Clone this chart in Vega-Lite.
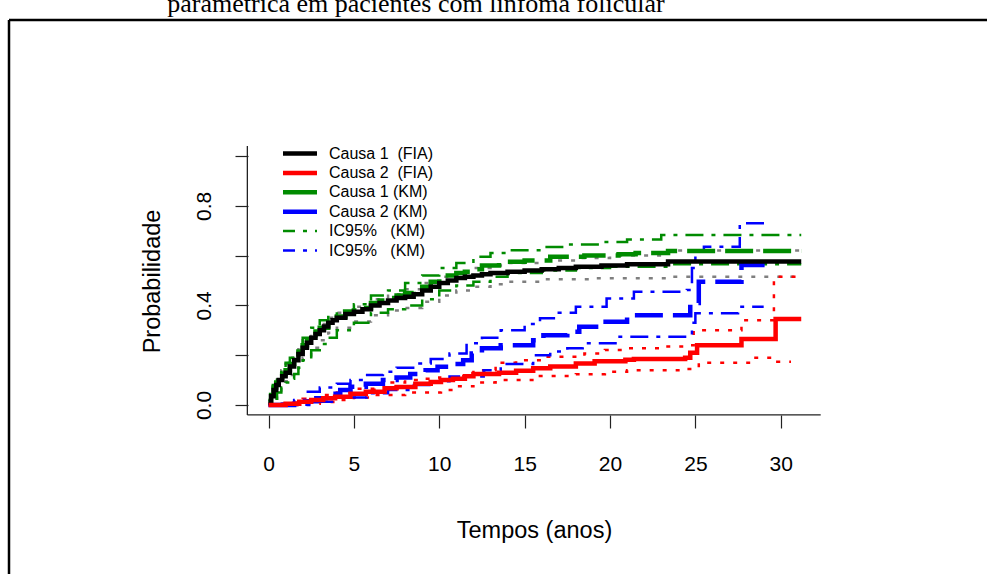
{
  "$schema": "https://vega.github.io/schema/vega-lite/v6.json",
  "width": 978,
  "height": 554,
  "autosize": {"type": "none"},
  "padding": {"left": 9, "top": 20, "right": 0, "bottom": 0},
  "background": "white",
  "config": {
    "view": {"stroke": "black", "strokeWidth": 2.5, "strokeDash": [978, 1532, 554, 0]},
    "font": "Liberation Sans",
    "axis": {"grid": false, "domain": false, "tickColor": "#222222", "tickWidth": 1.2, "labelColor": "black", "titleColor": "black", "labelFont": "Liberation Sans", "titleFont": "Liberation Sans", "titleFontWeight": "normal"},
    "axisX": {"offset": -159, "tickSize": 13, "labelFontSize": 21, "labelPadding": 25, "titleFontSize": 23.5, "titleX": 525, "titleY": 122, "titleBaseline": "alphabetic", "titleAlign": "center"},
    "axisY": {"offset": -239, "tickSize": 13, "labelFontSize": 21, "labelAngle": 270, "labelAlign": "center", "labelBaseline": "alphabetic", "labelPadding": 25, "labelExpr": "datum.value == 0 ? '0.0' : (datum.value == 0.4 ? '0.4' : (datum.value == 0.8 ? '0.8' : ''))", "titleFontSize": 23.5, "titleAngle": 270, "titleX": -89, "titleY": 261, "titleBaseline": "alphabetic", "titleAlign": "center"}
  },
  "title": {
    "text": "paramétrica em pacientes com linfoma folicular",
    "font": "Liberation Serif",
    "fontSize": 26,
    "fontWeight": "normal",
    "color": "black",
    "anchor": "middle",
    "frame": "group",
    "orient": "top",
    "baseline": "alphabetic",
    "offset": 0,
    "dy": 18,
    "dx": -82
  },
  "datasets": {
    "curvas": [
      {"curva":"FIA1","lim":"est","t":0,"p":0.01},{"curva":"FIA1","lim":"est","t":0.15,"p":0.035},{"curva":"FIA1","lim":"est","t":0.3,"p":0.06},{"curva":"FIA1","lim":"est","t":0.45,"p":0.08},{"curva":"FIA1","lim":"est","t":0.6,"p":0.10},{"curva":"FIA1","lim":"est","t":0.8,"p":0.115},{"curva":"FIA1","lim":"est","t":1.0,"p":0.13},{"curva":"FIA1","lim":"est","t":1.25,"p":0.155},{"curva":"FIA1","lim":"est","t":1.5,"p":0.18},{"curva":"FIA1","lim":"est","t":1.75,"p":0.205},{"curva":"FIA1","lim":"est","t":2.0,"p":0.23},{"curva":"FIA1","lim":"est","t":2.25,"p":0.25},{"curva":"FIA1","lim":"est","t":2.5,"p":0.27},{"curva":"FIA1","lim":"est","t":2.75,"p":0.285},{"curva":"FIA1","lim":"est","t":3.0,"p":0.30},{"curva":"FIA1","lim":"est","t":3.25,"p":0.315},{"curva":"FIA1","lim":"est","t":3.5,"p":0.33},{"curva":"FIA1","lim":"est","t":3.75,"p":0.34},{"curva":"FIA1","lim":"est","t":4.0,"p":0.35},{"curva":"FIA1","lim":"est","t":4.5,"p":0.365},{"curva":"FIA1","lim":"est","t":5.0,"p":0.375},{"curva":"FIA1","lim":"est","t":5.5,"p":0.385},{"curva":"FIA1","lim":"est","t":6.0,"p":0.40},{"curva":"FIA1","lim":"est","t":6.5,"p":0.41},{"curva":"FIA1","lim":"est","t":7.0,"p":0.42},{"curva":"FIA1","lim":"est","t":7.5,"p":0.43},{"curva":"FIA1","lim":"est","t":8.0,"p":0.435},{"curva":"FIA1","lim":"est","t":8.5,"p":0.445},{"curva":"FIA1","lim":"est","t":9.0,"p":0.46},{"curva":"FIA1","lim":"est","t":9.5,"p":0.475},{"curva":"FIA1","lim":"est","t":10.0,"p":0.49},{"curva":"FIA1","lim":"est","t":10.5,"p":0.50},{"curva":"FIA1","lim":"est","t":11.0,"p":0.51},{"curva":"FIA1","lim":"est","t":11.5,"p":0.515},{"curva":"FIA1","lim":"est","t":12.0,"p":0.52},{"curva":"FIA1","lim":"est","t":12.5,"p":0.525},{"curva":"FIA1","lim":"est","t":13.0,"p":0.53},{"curva":"FIA1","lim":"est","t":14.0,"p":0.535},{"curva":"FIA1","lim":"est","t":15.0,"p":0.54},{"curva":"FIA1","lim":"est","t":16.0,"p":0.545},{"curva":"FIA1","lim":"est","t":17.0,"p":0.55},{"curva":"FIA1","lim":"est","t":18.0,"p":0.555},{"curva":"FIA1","lim":"est","t":19.5,"p":0.56},{"curva":"FIA1","lim":"est","t":21.0,"p":0.565},{"curva":"FIA1","lim":"est","t":23.4,"p":0.576},{"curva":"FIA1","lim":"est","t":31.2,"p":0.576},

      {"curva":"FIA1ci","lim":"lo","t":0,"p":0},{"curva":"FIA1ci","lim":"lo","t":0.25,"p":0.025},{"curva":"FIA1ci","lim":"lo","t":0.5,"p":0.05},{"curva":"FIA1ci","lim":"lo","t":0.75,"p":0.075},{"curva":"FIA1ci","lim":"lo","t":1,"p":0.095},{"curva":"FIA1ci","lim":"lo","t":1.25,"p":0.12},{"curva":"FIA1ci","lim":"lo","t":1.5,"p":0.14},{"curva":"FIA1ci","lim":"lo","t":1.75,"p":0.165},{"curva":"FIA1ci","lim":"lo","t":2,"p":0.19},{"curva":"FIA1ci","lim":"lo","t":2.5,"p":0.23},{"curva":"FIA1ci","lim":"lo","t":3,"p":0.26},{"curva":"FIA1ci","lim":"lo","t":3.5,"p":0.29},{"curva":"FIA1ci","lim":"lo","t":4,"p":0.31},{"curva":"FIA1ci","lim":"lo","t":5,"p":0.335},{"curva":"FIA1ci","lim":"lo","t":6,"p":0.36},{"curva":"FIA1ci","lim":"lo","t":7,"p":0.38},{"curva":"FIA1ci","lim":"lo","t":8,"p":0.39},{"curva":"FIA1ci","lim":"lo","t":9,"p":0.415},{"curva":"FIA1ci","lim":"lo","t":10,"p":0.44},{"curva":"FIA1ci","lim":"lo","t":11,"p":0.46},{"curva":"FIA1ci","lim":"lo","t":12,"p":0.475},{"curva":"FIA1ci","lim":"lo","t":13,"p":0.485},{"curva":"FIA1ci","lim":"lo","t":14,"p":0.495},{"curva":"FIA1ci","lim":"lo","t":16,"p":0.505},{"curva":"FIA1ci","lim":"lo","t":19,"p":0.509},{"curva":"FIA1ci","lim":"lo","t":23.4,"p":0.515},{"curva":"FIA1ci","lim":"lo","t":31.2,"p":0.515},
      {"curva":"FIA1ci","lim":"hi","t":0,"p":0.02},{"curva":"FIA1ci","lim":"hi","t":0.25,"p":0.07},{"curva":"FIA1ci","lim":"hi","t":0.5,"p":0.11},{"curva":"FIA1ci","lim":"hi","t":0.75,"p":0.14},{"curva":"FIA1ci","lim":"hi","t":1,"p":0.165},{"curva":"FIA1ci","lim":"hi","t":1.25,"p":0.19},{"curva":"FIA1ci","lim":"hi","t":1.5,"p":0.21},{"curva":"FIA1ci","lim":"hi","t":1.75,"p":0.235},{"curva":"FIA1ci","lim":"hi","t":2,"p":0.26},{"curva":"FIA1ci","lim":"hi","t":2.5,"p":0.295},{"curva":"FIA1ci","lim":"hi","t":3,"p":0.325},{"curva":"FIA1ci","lim":"hi","t":3.5,"p":0.35},{"curva":"FIA1ci","lim":"hi","t":4,"p":0.37},{"curva":"FIA1ci","lim":"hi","t":5,"p":0.395},{"curva":"FIA1ci","lim":"hi","t":6,"p":0.425},{"curva":"FIA1ci","lim":"hi","t":7,"p":0.445},{"curva":"FIA1ci","lim":"hi","t":8,"p":0.465},{"curva":"FIA1ci","lim":"hi","t":9,"p":0.49},{"curva":"FIA1ci","lim":"hi","t":10,"p":0.515},{"curva":"FIA1ci","lim":"hi","t":11,"p":0.535},{"curva":"FIA1ci","lim":"hi","t":12,"p":0.55},{"curva":"FIA1ci","lim":"hi","t":13,"p":0.56},{"curva":"FIA1ci","lim":"hi","t":14,"p":0.57},{"curva":"FIA1ci","lim":"hi","t":16,"p":0.58},{"curva":"FIA1ci","lim":"hi","t":18,"p":0.59},{"curva":"FIA1ci","lim":"hi","t":20,"p":0.60},{"curva":"FIA1ci","lim":"hi","t":23.4,"p":0.62},{"curva":"FIA1ci","lim":"hi","t":31.2,"p":0.62},

      {"curva":"KM1","lim":"est","t":0,"p":0.01},{"curva":"KM1","lim":"est","t":0.15,"p":0.04},{"curva":"KM1","lim":"est","t":0.3,"p":0.07},{"curva":"KM1","lim":"est","t":0.45,"p":0.09},{"curva":"KM1","lim":"est","t":0.6,"p":0.11},{"curva":"KM1","lim":"est","t":0.8,"p":0.125},{"curva":"KM1","lim":"est","t":1.0,"p":0.14},{"curva":"KM1","lim":"est","t":1.25,"p":0.165},{"curva":"KM1","lim":"est","t":1.5,"p":0.19},{"curva":"KM1","lim":"est","t":1.75,"p":0.215},{"curva":"KM1","lim":"est","t":2.0,"p":0.24},{"curva":"KM1","lim":"est","t":2.25,"p":0.26},{"curva":"KM1","lim":"est","t":2.5,"p":0.28},{"curva":"KM1","lim":"est","t":2.75,"p":0.295},{"curva":"KM1","lim":"est","t":3.0,"p":0.31},{"curva":"KM1","lim":"est","t":3.5,"p":0.335},{"curva":"KM1","lim":"est","t":4.0,"p":0.355},{"curva":"KM1","lim":"est","t":4.5,"p":0.37},{"curva":"KM1","lim":"est","t":5.0,"p":0.38},{"curva":"KM1","lim":"est","t":5.5,"p":0.39},{"curva":"KM1","lim":"est","t":6.0,"p":0.41},{"curva":"KM1","lim":"est","t":6.5,"p":0.42},{"curva":"KM1","lim":"est","t":7.0,"p":0.43},{"curva":"KM1","lim":"est","t":7.5,"p":0.44},{"curva":"KM1","lim":"est","t":8.0,"p":0.45},{"curva":"KM1","lim":"est","t":8.5,"p":0.46},{"curva":"KM1","lim":"est","t":9.0,"p":0.475},{"curva":"KM1","lim":"est","t":9.5,"p":0.495},{"curva":"KM1","lim":"est","t":10.0,"p":0.51},{"curva":"KM1","lim":"est","t":10.5,"p":0.52},{"curva":"KM1","lim":"est","t":11.0,"p":0.53},{"curva":"KM1","lim":"est","t":11.5,"p":0.535},{"curva":"KM1","lim":"est","t":12.0,"p":0.545},{"curva":"KM1","lim":"est","t":12.5,"p":0.56},{"curva":"KM1","lim":"est","t":13.5,"p":0.575},{"curva":"KM1","lim":"est","t":15.0,"p":0.58},{"curva":"KM1","lim":"est","t":16.5,"p":0.595},{"curva":"KM1","lim":"est","t":18.5,"p":0.60},{"curva":"KM1","lim":"est","t":20.5,"p":0.605},{"curva":"KM1","lim":"est","t":21.5,"p":0.61},{"curva":"KM1","lim":"est","t":23.4,"p":0.618},{"curva":"KM1","lim":"est","t":31.2,"p":0.618},

      {"curva":"KM1ci","lim":"hi","t":0,"p":0.02},{"curva":"KM1ci","lim":"hi","t":0.25,"p":0.08},{"curva":"KM1ci","lim":"hi","t":0.5,"p":0.12},{"curva":"KM1ci","lim":"hi","t":0.75,"p":0.145},{"curva":"KM1ci","lim":"hi","t":1.0,"p":0.17},{"curva":"KM1ci","lim":"hi","t":1.25,"p":0.19},{"curva":"KM1ci","lim":"hi","t":1.5,"p":0.21},{"curva":"KM1ci","lim":"hi","t":1.75,"p":0.24},{"curva":"KM1ci","lim":"hi","t":2.0,"p":0.27},{"curva":"KM1ci","lim":"hi","t":2.5,"p":0.31},{"curva":"KM1ci","lim":"hi","t":3.0,"p":0.34},{"curva":"KM1ci","lim":"hi","t":3.5,"p":0.36},{"curva":"KM1ci","lim":"hi","t":4.0,"p":0.38},{"curva":"KM1ci","lim":"hi","t":5.0,"p":0.405},{"curva":"KM1ci","lim":"hi","t":6.0,"p":0.44},{"curva":"KM1ci","lim":"hi","t":7.0,"p":0.46},{"curva":"KM1ci","lim":"hi","t":8.0,"p":0.49},{"curva":"KM1ci","lim":"hi","t":9.0,"p":0.52},{"curva":"KM1ci","lim":"hi","t":10.0,"p":0.55},{"curva":"KM1ci","lim":"hi","t":11.0,"p":0.57},{"curva":"KM1ci","lim":"hi","t":12.0,"p":0.595},{"curva":"KM1ci","lim":"hi","t":13.0,"p":0.61},{"curva":"KM1ci","lim":"hi","t":14.0,"p":0.622},{"curva":"KM1ci","lim":"hi","t":16.0,"p":0.635},{"curva":"KM1ci","lim":"hi","t":17.5,"p":0.645},{"curva":"KM1ci","lim":"hi","t":19.5,"p":0.655},{"curva":"KM1ci","lim":"hi","t":21.0,"p":0.665},{"curva":"KM1ci","lim":"hi","t":23.0,"p":0.683},{"curva":"KM1ci","lim":"hi","t":31.2,"p":0.683},
      {"curva":"KM1ci","lim":"lo","t":0,"p":0.005},{"curva":"KM1ci","lim":"lo","t":0.25,"p":0.025},{"curva":"KM1ci","lim":"lo","t":0.5,"p":0.05},{"curva":"KM1ci","lim":"lo","t":0.75,"p":0.07},{"curva":"KM1ci","lim":"lo","t":1.0,"p":0.09},{"curva":"KM1ci","lim":"lo","t":1.25,"p":0.105},{"curva":"KM1ci","lim":"lo","t":1.5,"p":0.125},{"curva":"KM1ci","lim":"lo","t":1.75,"p":0.15},{"curva":"KM1ci","lim":"lo","t":2.0,"p":0.18},{"curva":"KM1ci","lim":"lo","t":2.5,"p":0.22},{"curva":"KM1ci","lim":"lo","t":3.0,"p":0.245},{"curva":"KM1ci","lim":"lo","t":3.5,"p":0.27},{"curva":"KM1ci","lim":"lo","t":4.0,"p":0.30},{"curva":"KM1ci","lim":"lo","t":5.0,"p":0.33},{"curva":"KM1ci","lim":"lo","t":6.0,"p":0.37},{"curva":"KM1ci","lim":"lo","t":7.0,"p":0.385},{"curva":"KM1ci","lim":"lo","t":8.0,"p":0.40},{"curva":"KM1ci","lim":"lo","t":9.0,"p":0.425},{"curva":"KM1ci","lim":"lo","t":10.0,"p":0.46},{"curva":"KM1ci","lim":"lo","t":11.0,"p":0.48},{"curva":"KM1ci","lim":"lo","t":12.0,"p":0.495},{"curva":"KM1ci","lim":"lo","t":13.0,"p":0.515},{"curva":"KM1ci","lim":"lo","t":14.0,"p":0.53},{"curva":"KM1ci","lim":"lo","t":16.0,"p":0.54},{"curva":"KM1ci","lim":"lo","t":18.0,"p":0.55},{"curva":"KM1ci","lim":"lo","t":20.0,"p":0.555},{"curva":"KM1ci","lim":"lo","t":23.4,"p":0.565},{"curva":"KM1ci","lim":"lo","t":31.2,"p":0.565},

      {"curva":"FIA2","lim":"est","t":0,"p":0},{"curva":"FIA2","lim":"est","t":1.0,"p":0.005},{"curva":"FIA2","lim":"est","t":1.8,"p":0.013},{"curva":"FIA2","lim":"est","t":2.5,"p":0.02},{"curva":"FIA2","lim":"est","t":3.2,"p":0.027},{"curva":"FIA2","lim":"est","t":3.9,"p":0.033},{"curva":"FIA2","lim":"est","t":4.8,"p":0.045},{"curva":"FIA2","lim":"est","t":5.7,"p":0.053},{"curva":"FIA2","lim":"est","t":6.8,"p":0.067},{"curva":"FIA2","lim":"est","t":7.5,"p":0.072},{"curva":"FIA2","lim":"est","t":8.6,"p":0.085},{"curva":"FIA2","lim":"est","t":9.5,"p":0.092},{"curva":"FIA2","lim":"est","t":10.1,"p":0.10},{"curva":"FIA2","lim":"est","t":10.8,"p":0.105},{"curva":"FIA2","lim":"est","t":11.5,"p":0.115},{"curva":"FIA2","lim":"est","t":12.0,"p":0.125},{"curva":"FIA2","lim":"est","t":13.5,"p":0.13},{"curva":"FIA2","lim":"est","t":14.5,"p":0.138},{"curva":"FIA2","lim":"est","t":15.5,"p":0.148},{"curva":"FIA2","lim":"est","t":16.5,"p":0.155},{"curva":"FIA2","lim":"est","t":18.0,"p":0.167},{"curva":"FIA2","lim":"est","t":19.1,"p":0.176},{"curva":"FIA2","lim":"est","t":20.9,"p":0.182},{"curva":"FIA2","lim":"est","t":21.4,"p":0.185},{"curva":"FIA2","lim":"est","t":24.4,"p":0.19},{"curva":"FIA2","lim":"est","t":24.7,"p":0.21},{"curva":"FIA2","lim":"est","t":25.1,"p":0.24},{"curva":"FIA2","lim":"est","t":27.7,"p":0.265},{"curva":"FIA2","lim":"est","t":29.7,"p":0.345},{"curva":"FIA2","lim":"est","t":31.2,"p":0.345},

      {"curva":"FIA2ci","lim":"hi","t":0,"p":0.005},{"curva":"FIA2ci","lim":"hi","t":1,"p":0.01},{"curva":"FIA2ci","lim":"hi","t":2,"p":0.025},{"curva":"FIA2ci","lim":"hi","t":3,"p":0.04},{"curva":"FIA2ci","lim":"hi","t":4,"p":0.05},{"curva":"FIA2ci","lim":"hi","t":5,"p":0.065},{"curva":"FIA2ci","lim":"hi","t":6.2,"p":0.085},{"curva":"FIA2ci","lim":"hi","t":7,"p":0.09},{"curva":"FIA2ci","lim":"hi","t":8,"p":0.10},{"curva":"FIA2ci","lim":"hi","t":9,"p":0.105},{"curva":"FIA2ci","lim":"hi","t":10,"p":0.11},{"curva":"FIA2ci","lim":"hi","t":11,"p":0.115},{"curva":"FIA2ci","lim":"hi","t":12,"p":0.14},{"curva":"FIA2ci","lim":"hi","t":13.3,"p":0.17},{"curva":"FIA2ci","lim":"hi","t":14.5,"p":0.18},{"curva":"FIA2ci","lim":"hi","t":16.2,"p":0.194},{"curva":"FIA2ci","lim":"hi","t":18.5,"p":0.207},{"curva":"FIA2ci","lim":"hi","t":19.7,"p":0.221},{"curva":"FIA2ci","lim":"hi","t":20.7,"p":0.228},{"curva":"FIA2ci","lim":"hi","t":23,"p":0.235},{"curva":"FIA2ci","lim":"hi","t":24.5,"p":0.24},{"curva":"FIA2ci","lim":"hi","t":24.9,"p":0.30},{"curva":"FIA2ci","lim":"hi","t":27.7,"p":0.34},{"curva":"FIA2ci","lim":"hi","t":29.6,"p":0.515},{"curva":"FIA2ci","lim":"hi","t":31.1,"p":0.515},
      {"curva":"FIA2ci","lim":"lo","t":0,"p":0},{"curva":"FIA2ci","lim":"lo","t":2,"p":0.005},{"curva":"FIA2ci","lim":"lo","t":3,"p":0.012},{"curva":"FIA2ci","lim":"lo","t":4,"p":0.02},{"curva":"FIA2ci","lim":"lo","t":5,"p":0.03},{"curva":"FIA2ci","lim":"lo","t":6.2,"p":0.04},{"curva":"FIA2ci","lim":"lo","t":8,"p":0.05},{"curva":"FIA2ci","lim":"lo","t":10.1,"p":0.06},{"curva":"FIA2ci","lim":"lo","t":11,"p":0.075},{"curva":"FIA2ci","lim":"lo","t":12,"p":0.09},{"curva":"FIA2ci","lim":"lo","t":13.3,"p":0.10},{"curva":"FIA2ci","lim":"lo","t":15.6,"p":0.116},{"curva":"FIA2ci","lim":"lo","t":18,"p":0.124},{"curva":"FIA2ci","lim":"lo","t":19.7,"p":0.134},{"curva":"FIA2ci","lim":"lo","t":21,"p":0.14},{"curva":"FIA2ci","lim":"lo","t":24.5,"p":0.145},{"curva":"FIA2ci","lim":"lo","t":25.2,"p":0.17},{"curva":"FIA2ci","lim":"lo","t":28.4,"p":0.19},{"curva":"FIA2ci","lim":"lo","t":29.8,"p":0.174},{"curva":"FIA2ci","lim":"lo","t":30.6,"p":0.174},

      {"curva":"KM2","lim":"est","t":0,"p":0},{"curva":"KM2","lim":"est","t":1.5,"p":0.005},{"curva":"KM2","lim":"est","t":2.2,"p":0.015},{"curva":"KM2","lim":"est","t":2.8,"p":0.027},{"curva":"KM2","lim":"est","t":3.5,"p":0.045},{"curva":"KM2","lim":"est","t":4.2,"p":0.06},{"curva":"KM2","lim":"est","t":4.8,"p":0.073},{"curva":"KM2","lim":"est","t":5.7,"p":0.085},{"curva":"KM2","lim":"est","t":6.7,"p":0.10},{"curva":"KM2","lim":"est","t":7.5,"p":0.11},{"curva":"KM2","lim":"est","t":8.3,"p":0.125},{"curva":"KM2","lim":"est","t":9.2,"p":0.14},{"curva":"KM2","lim":"est","t":9.9,"p":0.154},{"curva":"KM2","lim":"est","t":10.6,"p":0.165},{"curva":"KM2","lim":"est","t":11.4,"p":0.18},{"curva":"KM2","lim":"est","t":11.9,"p":0.207},{"curva":"KM2","lim":"est","t":12.5,"p":0.228},{"curva":"KM2","lim":"est","t":13.6,"p":0.24},{"curva":"KM2","lim":"est","t":15.5,"p":0.26},{"curva":"KM2","lim":"est","t":16.1,"p":0.28},{"curva":"KM2","lim":"est","t":17.5,"p":0.294},{"curva":"KM2","lim":"est","t":18.2,"p":0.314},{"curva":"KM2","lim":"est","t":19.4,"p":0.334},{"curva":"KM2","lim":"est","t":21.0,"p":0.36},{"curva":"KM2","lim":"est","t":24.7,"p":0.41},{"curva":"KM2","lim":"est","t":25.2,"p":0.495},{"curva":"KM2","lim":"est","t":27.7,"p":0.562},{"curva":"KM2","lim":"est","t":29.4,"p":0.562},

      {"curva":"KM2ci","lim":"hi","t":0,"p":0.005},{"curva":"KM2ci","lim":"hi","t":1.5,"p":0.02},{"curva":"KM2ci","lim":"hi","t":2.2,"p":0.053},{"curva":"KM2ci","lim":"hi","t":3,"p":0.07},{"curva":"KM2ci","lim":"hi","t":4,"p":0.085},{"curva":"KM2ci","lim":"hi","t":4.8,"p":0.10},{"curva":"KM2ci","lim":"hi","t":5.7,"p":0.12},{"curva":"KM2ci","lim":"hi","t":6.7,"p":0.134},{"curva":"KM2ci","lim":"hi","t":7.5,"p":0.15},{"curva":"KM2ci","lim":"hi","t":8.7,"p":0.167},{"curva":"KM2ci","lim":"hi","t":9.5,"p":0.185},{"curva":"KM2ci","lim":"hi","t":10.6,"p":0.207},{"curva":"KM2ci","lim":"hi","t":11.6,"p":0.248},{"curva":"KM2ci","lim":"hi","t":12.5,"p":0.27},{"curva":"KM2ci","lim":"hi","t":13.6,"p":0.30},{"curva":"KM2ci","lim":"hi","t":15.0,"p":0.325},{"curva":"KM2ci","lim":"hi","t":15.9,"p":0.348},{"curva":"KM2ci","lim":"hi","t":17,"p":0.37},{"curva":"KM2ci","lim":"hi","t":18,"p":0.395},{"curva":"KM2ci","lim":"hi","t":19.8,"p":0.428},{"curva":"KM2ci","lim":"hi","t":21.4,"p":0.455},{"curva":"KM2ci","lim":"hi","t":24.5,"p":0.462},{"curva":"KM2ci","lim":"hi","t":24.8,"p":0.55},{"curva":"KM2ci","lim":"hi","t":25.0,"p":0.622},{"curva":"KM2ci","lim":"hi","t":25.5,"p":0.636},{"curva":"KM2ci","lim":"hi","t":27.6,"p":0.73},{"curva":"KM2ci","lim":"hi","t":29.4,"p":0.73},
      {"curva":"KM2ci","lim":"lo","t":0,"p":0},{"curva":"KM2ci","lim":"lo","t":2.8,"p":0.013},{"curva":"KM2ci","lim":"lo","t":4,"p":0.03},{"curva":"KM2ci","lim":"lo","t":5.75,"p":0.047},{"curva":"KM2ci","lim":"lo","t":7,"p":0.06},{"curva":"KM2ci","lim":"lo","t":8.3,"p":0.08},{"curva":"KM2ci","lim":"lo","t":9.5,"p":0.095},{"curva":"KM2ci","lim":"lo","t":10.6,"p":0.114},{"curva":"KM2ci","lim":"lo","t":12.6,"p":0.14},{"curva":"KM2ci","lim":"lo","t":13.6,"p":0.165},{"curva":"KM2ci","lim":"lo","t":15.5,"p":0.2},{"curva":"KM2ci","lim":"lo","t":16.5,"p":0.215},{"curva":"KM2ci","lim":"lo","t":17.5,"p":0.228},{"curva":"KM2ci","lim":"lo","t":18.4,"p":0.248},{"curva":"KM2ci","lim":"lo","t":20.4,"p":0.274},{"curva":"KM2ci","lim":"lo","t":24.5,"p":0.281},{"curva":"KM2ci","lim":"lo","t":24.8,"p":0.33},{"curva":"KM2ci","lim":"lo","t":25.0,"p":0.368},{"curva":"KM2ci","lim":"lo","t":27.5,"p":0.395},{"curva":"KM2ci","lim":"lo","t":29.0,"p":0.395}
    ]
  },
  "layer": [
    {
      "data": {"name": "curvas"},
      "transform": [{"filter": "datum.curva == 'FIA1ci'"}],
      "mark": {"type": "line", "interpolate": "step-after", "color": "#7f7f7f", "strokeWidth": 2.5, "strokeDash": [4, 9]},
      "encoding": {
        "x": {"field": "t", "type": "quantitative", "title": "Tempos (anos)", "scale": {"domain": [-15.2, 42.08], "nice": false, "zero": false}, "axis": {"values": [0, 5, 10, 15, 20, 25, 30]}},
        "y": {"field": "p", "type": "quantitative", "title": "Probabilidade", "scale": {"domain": [-0.6787, 1.5462], "nice": false, "zero": false}, "axis": {"values": [0, 0.2, 0.4, 0.6, 0.8, 1]}},
        "detail": {"field": "lim", "type": "nominal"}
      }
    },
    {
      "data": {"name": "curvas"},
      "transform": [{"filter": "datum.curva == 'FIA2ci'"}],
      "mark": {"type": "line", "interpolate": "step-after", "color": "#ff0000", "strokeWidth": 2.5, "strokeDash": [4, 9]},
      "encoding": {
        "x": {"field": "t", "type": "quantitative", "title": "Tempos (anos)", "axis": {"values": [0, 5, 10, 15, 20, 25, 30]}},
        "y": {"field": "p", "type": "quantitative", "title": "Probabilidade", "axis": {"values": [0, 0.2, 0.4, 0.6, 0.8, 1]}},
        "detail": {"field": "lim", "type": "nominal"}
      }
    },
    {
      "data": {"name": "curvas"},
      "transform": [{"filter": "datum.curva == 'KM1ci' || datum.curva == 'KM2ci'"}],
      "mark": {"type": "line", "interpolate": "step-after", "strokeWidth": 2.5, "strokeDash": [4, 8, 18, 8]},
      "encoding": {
        "x": {"field": "t", "type": "quantitative", "title": "Tempos (anos)", "axis": {"values": [0, 5, 10, 15, 20, 25, 30]}},
        "y": {"field": "p", "type": "quantitative", "title": "Probabilidade", "axis": {"values": [0, 0.2, 0.4, 0.6, 0.8, 1]}},
        "detail": {"field": "lim", "type": "nominal"},
        "color": {"field": "curva", "type": "nominal",
          "scale": {"domain": ["FIA1", "FIA2", "KM1", "KM2", "KM1ci", "KM2ci"], "range": ["#000000", "#ff0000", "#008b00", "#0000ff", "#008b00", "#0000ff"]},
          "legend": {
            "orient": "none", "legendX": 274, "legendY": 125, "title": null,
            "symbolType": "stroke", "symbolSize": 2700, "clipHeight": 17, "rowPadding": 2.4, "padding": 0,
            "labelFont": "Liberation Sans", "labelFontSize": 16, "labelColor": "black", "labelOffset": 30,
            "labelExpr": "datum.value == 'FIA1' ? 'Causa 1\u00a0 (FIA)' : (datum.value == 'FIA2' ? 'Causa 2\u00a0 (FIA)' : (datum.value == 'KM1' ? 'Causa 1 (KM)' : (datum.value == 'KM2' ? 'Causa 2 (KM)' : 'IC95%\u00a0\u00a0 (KM)')))",
            "encode": {"symbols": {"update": {
              "strokeDash": {"signal": "(datum.value == 'KM1ci' || datum.value == 'KM2ci') ? [4, 8, 18, 8] : [1, 0]"},
              "strokeWidth": {"signal": "(datum.value == 'KM1ci' || datum.value == 'KM2ci') ? 2.5 : 4.5"}
            }}}
          }}
      }
    },
    {
      "data": {"name": "curvas"},
      "transform": [{"filter": "datum.curva == 'KM1' || datum.curva == 'KM2'"}],
      "mark": {"type": "line", "interpolate": "step-after", "strokeWidth": 4.5, "strokeDash": [28, 10]},
      "encoding": {
        "x": {"field": "t", "type": "quantitative", "title": "Tempos (anos)", "axis": {"values": [0, 5, 10, 15, 20, 25, 30]}},
        "y": {"field": "p", "type": "quantitative", "title": "Probabilidade", "axis": {"values": [0, 0.2, 0.4, 0.6, 0.8, 1]}},
        "color": {"field": "curva", "type": "nominal"}
      }
    },
    {
      "data": {"name": "curvas"},
      "transform": [{"filter": "datum.curva == 'FIA1' || datum.curva == 'FIA2'"}],
      "mark": {"type": "line", "interpolate": "step-after", "strokeWidth": 4.5},
      "encoding": {
        "x": {"field": "t", "type": "quantitative", "title": "Tempos (anos)", "axis": {"values": [0, 5, 10, 15, 20, 25, 30]}},
        "y": {"field": "p", "type": "quantitative", "title": "Probabilidade", "axis": {"values": [0, 0.2, 0.4, 0.6, 0.8, 1]}},
        "color": {"field": "curva", "type": "nominal"}
      }
    },
    {
      "data": {"values": [{}]},
      "mark": {"type": "rule", "color": "#222222", "strokeWidth": 1.3},
      "encoding": {
        "x": {"datum": -1.24, "type": "quantitative", "title": "Tempos (anos)", "axis": {"values": [0, 5, 10, 15, 20, 25, 30]}},
        "y": {"datum": -0.04, "type": "quantitative", "title": "Probabilidade", "axis": {"values": [0, 0.2, 0.4, 0.6, 0.8, 1]}},
        "y2": {"datum": 1.04}
      }
    },
    {
      "data": {"values": [{}]},
      "mark": {"type": "rule", "color": "#222222", "strokeWidth": 1.3},
      "encoding": {
        "x": {"datum": -1.24, "type": "quantitative", "title": "Tempos (anos)", "axis": {"values": [0, 5, 10, 15, 20, 25, 30]}},
        "x2": {"datum": 32.34},
        "y": {"datum": -0.04, "type": "quantitative", "title": "Probabilidade", "axis": {"values": [0, 0.2, 0.4, 0.6, 0.8, 1]}}
      }
    }
  ]
}
